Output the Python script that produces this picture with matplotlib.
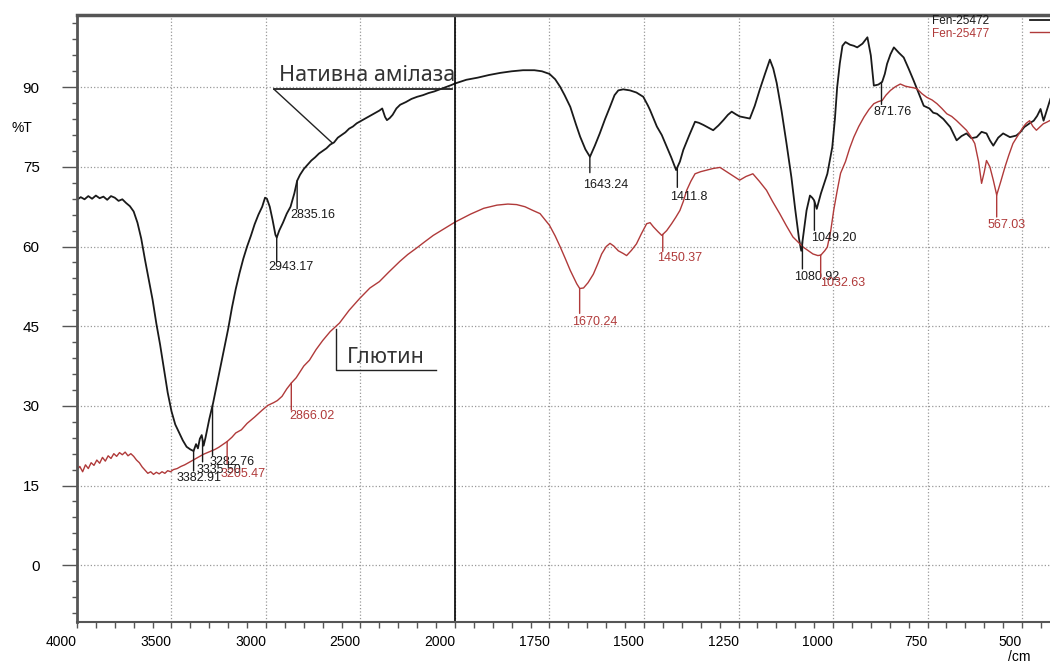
# FTIR spectra: native amylase vs gluten
import numpy as np
import matplotlib.pyplot as plt

# wavenumber (1/cm) and transmittance (%T)
amylase_wn = [4000, 3980, 3960, 3940, 3920, 3900, 3880, 3860, 3840, 3820, 3800, 3780, 3760, 3740,
              3720, 3700, 3680, 3660, 3640, 3620, 3600, 3580, 3560, 3540, 3520, 3500, 3480, 3460,
              3440, 3420, 3400, 3383, 3370, 3360, 3350, 3340, 3330, 3320, 3300, 3280, 3260, 3240,
              3220, 3200, 3180, 3160, 3140, 3120, 3100, 3080, 3060, 3040, 3020, 3005, 2995, 2980,
              2965, 2950, 2943, 2930, 2910, 2890, 2870, 2850, 2835, 2820, 2800, 2780, 2760, 2740,
              2720, 2700, 2680, 2660, 2640, 2620, 2600, 2580, 2560, 2540, 2520, 2500, 2480, 2460,
              2440, 2420, 2400, 2385, 2370, 2360, 2345, 2330, 2310, 2290, 2260, 2230, 2200, 2170,
              2140, 2110, 2080, 2050, 2020, 2000, 1970, 1940, 1910, 1880, 1850, 1820, 1790, 1770,
              1750, 1735, 1722, 1710, 1695, 1680, 1669, 1655, 1643, 1630, 1617, 1603, 1590, 1578,
              1568, 1555, 1537, 1520, 1502, 1490, 1484, 1466, 1453, 1440, 1428, 1415, 1405, 1396,
              1380, 1365, 1355, 1343, 1330, 1317, 1303, 1290, 1278, 1268, 1257, 1247, 1233, 1220,
              1207, 1194, 1180, 1167, 1158, 1149, 1136, 1123, 1110, 1100, 1090, 1084, 1077, 1070,
              1061, 1055, 1050, 1043, 1032, 1015, 1002, 995, 989, 982, 975, 967, 955, 945, 936,
              922, 909, 900, 892, 880, 870, 863, 857, 848, 839, 826, 813, 800, 787, 773, 760, 745,
              735, 725, 708, 690, 673, 660, 647, 634, 620, 607, 594, 585, 576, 563, 550, 532, 515,
              505, 494, 480, 469, 460, 451, 443, 435, 425]
amylase_t = [68.8, 69.3, 68.9, 69.5, 69.0, 69.6, 69.1, 69.4, 68.8, 69.5, 69.2, 68.6, 68.9, 68.2,
             67.6, 66.6, 64.5, 61.5, 57.5, 53.8, 50.0, 45.5, 41.5, 37.0, 32.5, 29.0, 26.5, 25.0,
             23.5, 22.3, 21.8, 21.5, 22.8, 22.0, 23.8, 24.5, 22.5, 24.0, 27.5, 30.5, 34.0, 37.5,
             41.0, 44.5, 48.5, 52.0, 55.0, 57.7, 60.0, 62.0, 64.2, 66.0, 67.5, 69.2, 69.0, 67.5,
             65.0, 62.2, 61.7, 63.0, 64.5, 66.2, 67.5, 70.0, 72.4, 73.5, 74.6, 75.4, 76.2, 76.8,
             77.5, 78.0, 78.5, 79.2, 79.6, 80.5, 81.0, 81.5, 82.2, 82.6, 83.2, 83.6, 84.0, 84.4,
             84.8, 85.2, 85.6, 86.0, 84.4, 83.8, 84.2, 84.8, 86.0, 86.7, 87.2, 87.8, 88.2, 88.5,
             88.9, 89.2, 89.6, 90.0, 90.4, 90.7, 91.4, 91.8, 92.3, 92.7, 93.0, 93.2, 93.2, 93.0,
             92.5, 91.5, 90.1, 88.5, 86.3, 83.0, 80.7, 78.3, 76.9, 79.0, 81.3, 84.0, 86.3, 88.5,
             89.4, 89.6, 89.4, 89.0, 88.2, 86.6, 85.7, 82.6, 81.0, 78.8, 76.8, 74.4, 76.0, 78.2,
             81.0, 83.5, 83.3, 82.9, 82.4, 81.9, 82.8, 83.8, 84.8, 85.4, 84.9, 84.5, 84.3, 84.1,
             86.5, 89.5, 92.5, 95.2, 93.5, 90.8, 85.5, 79.4, 73.0, 67.0, 61.5, 59.2, 63.0, 66.8,
             69.6, 69.2, 68.7, 67.1, 70.0, 73.7, 78.7, 84.0, 90.0, 94.5, 97.8, 98.5, 98.0, 97.8, 97.5,
             98.2, 99.4, 96.0, 90.3, 90.5, 91.0, 92.5, 94.4, 96.2, 97.5, 96.5, 95.6, 93.5, 91.3, 88.8, 86.5, 86.0,
             85.2, 85.0, 84.0, 82.5, 80.0, 80.8, 81.3, 80.4, 80.6, 81.6, 81.3, 80.0, 79.0, 80.5, 81.3, 80.6, 80.9,
             81.5, 82.5, 83.2, 83.7, 84.6, 85.9, 83.7, 85.5, 87.8]

gluten_wn = [4000, 3985, 3970, 3955, 3940, 3925, 3910, 3895, 3880, 3865, 3850, 3835, 3820, 3805,
             3790, 3775, 3760, 3745, 3730, 3715, 3700, 3685, 3670, 3655, 3640, 3625, 3610, 3595,
             3580, 3565, 3550, 3535, 3520, 3505, 3490, 3470, 3450, 3430, 3410, 3390, 3370, 3350,
             3330, 3310, 3290, 3270, 3250, 3230, 3205, 3180, 3160, 3130, 3100, 3060, 3020, 2990,
             2960, 2940, 2915, 2890, 2866, 2840, 2800, 2770, 2735, 2700, 2660, 2611, 2560, 2505,
             2450, 2400, 2350, 2292, 2250, 2204, 2160, 2115, 2060, 2000, 1959, 1924, 1889, 1860,
             1837, 1815, 1794, 1775, 1750, 1735, 1722, 1708, 1695, 1678, 1670, 1660, 1648, 1634,
             1622, 1612, 1600, 1590, 1580, 1568, 1555, 1546, 1533, 1520, 1507, 1493, 1484, 1475,
             1463, 1453, 1440, 1427, 1416, 1405, 1396, 1387, 1376, 1365, 1350, 1334, 1317, 1299,
             1286, 1273, 1260, 1247, 1230, 1212, 1195, 1176, 1160, 1141, 1124, 1106, 1092, 1079,
             1065, 1053, 1040, 1032, 1022, 1015, 1006, 998, 989, 980, 967, 956, 945, 932, 918, 905,
             892, 880, 870, 860, 848, 835, 822, 809, 796, 787, 778, 765, 752, 738, 725, 712, 699,
             686, 673, 660, 647, 636, 625, 615, 607, 600, 594, 585, 576, 567, 556, 545, 535, 524,
             510, 497, 489, 480, 471, 462, 453, 444, 435, 427]
gluten_t = [17.9, 18.6, 17.6, 18.9, 18.2, 19.3, 18.8, 19.8, 19.2, 20.3, 19.6, 20.6, 20.1, 21.0,
            20.5, 21.2, 20.8, 21.3, 20.6, 21.0, 20.5, 19.8, 19.3, 18.5, 17.9, 17.3, 17.6, 17.1,
            17.5, 17.2, 17.6, 17.3, 17.8, 17.6, 18.0, 18.2, 18.6, 18.9, 19.3, 19.7, 20.1, 20.5,
            20.9, 21.2, 21.5, 21.8, 22.2, 22.7, 23.3, 24.1, 24.9, 25.5, 26.7, 27.9, 29.2, 30.1,
            30.6, 31.0, 31.8, 33.2, 34.3, 35.3, 37.5, 38.6, 40.6, 42.3, 44.0, 45.6, 48.0, 50.2,
            52.2, 53.4, 55.2, 57.2, 58.5, 59.7, 60.9, 62.1, 63.3, 64.6, 66.1, 67.2, 67.8, 68.0,
            67.9, 67.5, 66.8, 66.2, 64.0, 62.0, 60.0, 57.7, 55.5, 53.0, 52.1, 52.2, 53.2, 54.8,
            56.8, 58.6, 60.0, 60.6, 60.1, 59.2, 58.7, 58.3, 59.3, 60.5, 62.4, 64.3, 64.5, 63.7,
            62.8, 62.1, 63.0, 64.3, 65.5, 66.8, 68.5, 70.6, 72.3, 73.7, 74.1, 74.4, 74.7, 74.9,
            74.3, 73.7, 73.1, 72.5, 73.2, 73.7, 72.3, 70.6, 68.5, 66.2, 64.0, 61.8, 60.8, 59.9,
            59.2, 58.6, 58.3, 58.4, 59.2, 59.9, 63.0, 66.9, 70.5, 73.8, 76.0, 78.5, 80.6, 82.6, 84.4, 85.8,
            86.9, 87.3, 87.5, 88.5, 89.4, 90.1, 90.6, 90.2, 90.0, 89.9, 89.7, 88.8, 88.1, 87.6, 86.9, 86.0, 85.0,
            84.5, 83.7, 82.8, 81.9, 80.8, 79.4, 76.0, 71.9, 74.0, 76.2, 75.0, 72.5, 69.7, 72.3, 75.0, 77.2, 79.4,
            81.0, 82.5, 83.2, 83.7, 82.6, 81.9, 82.5, 83.1, 83.4, 83.7]

# peak labels: wavenumber, text, tick length px, text dx px, text dy px
amylase_peaks = [(3382.91, '3382.91', 20, -17, 27), (3335.50, '3335.50', 22, -6, 30),
                 (3282.76, '3282.76', 50, -3, 57), (2943.17, '2943.17', 24, -8, 30),
                 (2835.16, '2835.16', 28, -7, 34), (1643.24, '1643.24', 16, -7, 28),
                 (1411.8, '1411.8', 20, -7, 30), (1080.92, '1080.92', 27, -8, 35),
                 (1049.20, '1049.20', 29, -3, 37), (871.76, '871.76', 22, -8, 30)]
gluten_peaks = [(3205.47, '3205.47', 22, -7, 32), (2866.02, '2866.02', 27, -2, 33),
                (1670.24, '1670.24', 25, -8, 34), (1450.37, '1450.37', 17, -6, 24),
                (1032.63, '1032.63', 22, -1, 28), (567.03, '567.03', 22, -9, 30)]

x_major = [4000, 3500, 3000, 2500, 2000, 1750, 1500, 1250, 1000, 750, 500]
y_major = [0, 15, 30, 45, 60, 75, 90]

BLACK = '#1a1a1a'
RED = '#b03a3a'


# the spectrometer halves the scale below 2000 /cm
def fwd(x):
    x = np.asarray(x, dtype=float)
    return np.where(x <= 2000, x / 250.0, 8.0 + (x - 2000) / 500.0)


def inv(u):
    u = np.asarray(u, dtype=float)
    return np.where(u <= 8, u * 250.0, 2000 + (u - 8) * 500.0)


fig = plt.figure(figsize=(10.5, 6.66), dpi=100)
ax = fig.add_axes([0.0733, 0.066, 0.9267, 0.9115])
ax.set_xscale('function', functions=(fwd, inv))

l1, = ax.plot(amylase_wn, amylase_t, color=BLACK, lw=1.3)
l2, = ax.plot(gluten_wn, gluten_t, color=RED, lw=1.0)
ax.axvline(2000, color='black', lw=1.2)

ax.set_xlim(4000, 426)
ax.set_ylim(-10.7, 103.6)
ax.set_xticks(x_major, labels=[str(v) for v in x_major], ha='right')
ax.set_xticks(list(range(3900, 2000, -100)) + list(range(1950, 420, -50)), minor=True)
ax.set_yticks(y_major)
ax.set_yticks(np.arange(-9, 103, 3), minor=True)
ax.grid(True, which='major', linestyle=':', color='#999999', lw=0.9)

ax.spines['right'].set_visible(False)
ax.spines['top'].set_linewidth(2.5)
ax.spines['top'].set_color('#555555')
ax.spines['left'].set_linewidth(2)
ax.spines['left'].set_color('#555555')
ax.spines['bottom'].set_linewidth(1.5)
ax.spines['bottom'].set_color('#555555')

ax.tick_params(axis='y', which='major', length=10.8, width=1, pad=16, labelsize=11, color='#555555')
ax.tick_params(axis='y', which='minor', length=3.6, width=1, color='#555555')
ax.tick_params(axis='x', which='both', length=4.3, width=1, pad=5, labelsize=10, color='#555555')
for lbl in ax.get_xticklabels() + ax.get_yticklabels():
    lbl.set_family('Liberation Sans')

fig.text(12 / 1050, 1 - 128 / 666, '%T', fontsize=10, va='center', family='Liberation Sans')
fig.text(1008 / 1050, 1 - 657 / 666, '/cm', fontsize=10, va='center', family='Liberation Sans')


def label_peaks(wn, t, peaks, color):
    xs = np.array(wn)[::-1]
    ys = np.array(t)[::-1]
    for w, txt, tl, dx, dy in peaks:
        yv = np.interp(w, xs, ys)
        ax.annotate('', xy=(w, yv), xytext=(0, -tl), textcoords='offset pixels',
                    arrowprops=dict(arrowstyle='-', color=color, lw=1, shrinkA=0, shrinkB=0))
        ax.annotate(txt, xy=(w, yv), xytext=(dx, -dy), textcoords='offset pixels',
                    ha='left', va='center', fontsize=9, color=color, family='Liberation Sans')


label_peaks(amylase_wn, amylase_t, amylase_peaks, BLACK)
label_peaks(gluten_wn, gluten_t, gluten_peaks, RED)

# sample annotations
ax.text(2930, 92.3, 'Нативна амілаза', fontsize=15.5, color='#333333', va='center', family='Noto Sans')
ax.plot([2957, 2014], [89.6, 89.6], color='#222222', lw=1.3)
ax.plot([2957, 2649], [89.6, 79.5], color='#222222', lw=1)
ax.text(2570, 39.2, 'Глютин', fontsize=15.5, color='#333333', va='center', family='Noto Sans')
ax.plot([2628, 2628, 2099], [44.5, 36.7, 36.7], color='#222222', lw=1)

ax.legend([l1, l2], ['Fen-25472', 'Fen-25477'], loc='upper right', markerfirst=False,
          frameon=False, prop={'family': 'Liberation Sans', 'size': 8.5},
          bbox_to_anchor=(1065 / 1050, 1 - 15 / 666), bbox_transform=fig.transFigure,
          borderaxespad=0, borderpad=0, handlelength=3.0, handletextpad=3.4, labelspacing=0.05)
for t, c in zip(ax.get_legend().get_texts(), [BLACK, RED]):
    t.set_color(c)

fig.savefig('out.png', dpi=100)
